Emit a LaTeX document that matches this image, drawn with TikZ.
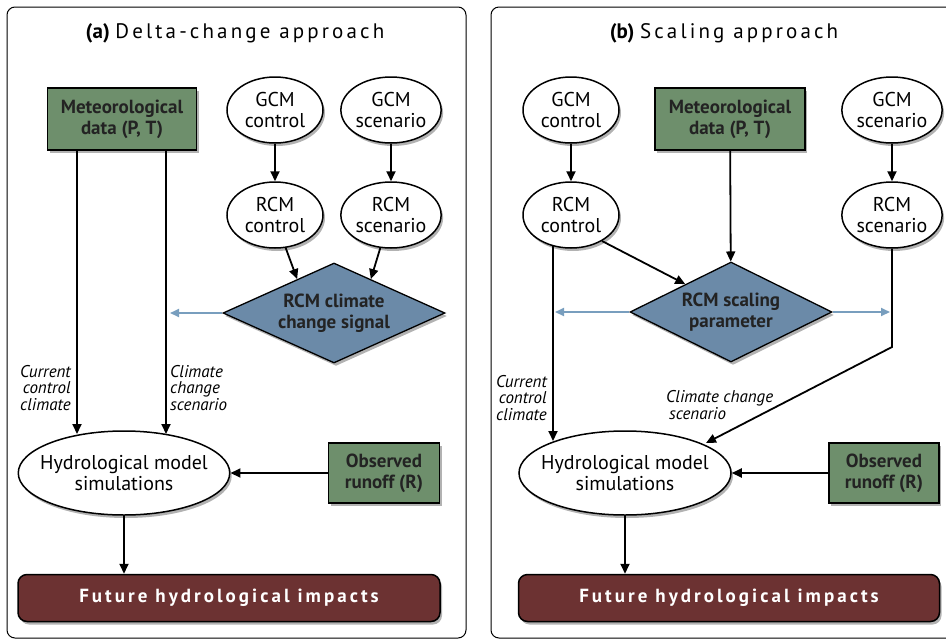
\documentclass[tikz,border=0pt]{standalone}
\usepackage{fontspec}
\setmainfont{PT Sans}
\usetikzlibrary{shapes.geometric,arrows.meta,shadows,calc}

\definecolor{boxgreen}{RGB}{110,143,108}
\definecolor{sigblue}{RGB}{107,138,168}
\definecolor{impred}{RGB}{108,50,50}
\definecolor{linkblue}{RGB}{120,158,190}
\definecolor{inktext}{RGB}{35,35,35}

\tikzset{
  shade/.style={drop shadow={shadow xshift=2pt,shadow yshift=-3pt,opacity=0.3,fill=black}},
  panel/.style={draw, line width=1pt, rounded corners=8pt},
  model/.style={ellipse, draw, line width=1.5pt, fill=white, inner sep=0pt, align=center,
    minimum width=96pt, minimum height=66pt, font=\fontsize{20}{21}\selectfont, shade},
  datbox/.style={rectangle, draw, line width=1.5pt, fill=boxgreen, inner sep=0pt, align=center,
    text=inktext, font=\bfseries\fontsize{19}{21}\selectfont, shade},
  signal/.style={diamond, draw, line width=1.3pt, fill=sigblue, inner sep=-4pt, align=center,
    shape aspect=2.2, text=inktext, font=\bfseries\fontsize{19}{21}\selectfont, shade},
  impact/.style={rectangle, draw, line width=1.5pt, rounded corners=9pt, fill=impred, text=white,
    font=\bfseries\fontsize{19}{21}\selectfont\addfontfeature{LetterSpace=16}, shade},
  arr/.style={line width=1.8pt, -{Triangle[length=10pt,width=9pt]}},
  bluearr/.style={line width=1.8pt, draw=linkblue, -{Triangle[length=9pt,width=8pt]}},
  flowlabel/.style={font=\itshape\fontsize{17}{16.5}\selectfont, inner sep=0pt}
}

\begin{document}
\begin{tikzpicture}[x=1pt, y=-1pt]
  \useasboundingbox (0,0) rectangle (946,641);

  % Panel (a)
  \draw[panel] (7,7) rectangle (466,638);
  \node (titlea) at (235,33) {\fontsize{21}{24}\selectfont\textbf{(a)}
    \addfontfeature{LetterSpace=15}Delta-change approach};

  \node[datbox, minimum width=149pt, minimum height=62pt] (meta) at (122,119) {Meteorological\\data (P, T)};
  \node[model] (gcmca) at (275,110) {GCM\\control};
  \node[model] (gcmsa) at (391,110) {GCM\\scenario};
  \node[model] (rcmca) at (275,215) {RCM\\control};
  \node[model] (rcmsa) at (391,215) {RCM\\scenario};
  \node[signal, minimum width=222pt, minimum height=100pt] (siga) at (334,313) {RCM climate\\change signal};
  \node[model, inner xsep=-9pt, minimum width=211pt, minimum height=84pt] (hyda) at (124,473) {Hydrological model\\simulations};
  \node[datbox, minimum width=111pt, minimum height=60pt] (obsa) at (384,473) {Observed\\runoff (R)};
  \node[impact, minimum width=422pt, minimum height=47pt] (futa) at (229,598) {Future hydrological impacts};

  \coordinate (curina) at (77,434);
  \coordinate (clmina) at (166,434);
  \coordinate (linka) at (170,313);

  % Connectors (a)
  \draw[arr] (gcmca) -- (rcmca);
  \draw[arr] (gcmsa) -- (rcmsa);
  \draw[arr] (rcmca.-72) -- ($(siga.north)!0.33!(siga.west)$);
  \draw[arr] (rcmsa.-108) -- ($(siga.north)!0.33!(siga.east)$);
  \draw[arr] (meta.south -| curina) -- (curina);
  \draw[arr] (meta.south -| clmina) -- (clmina);
  \draw[bluearr] (siga.west) -- (linka);
  \draw[arr] (obsa.west) -- (hyda.east);
  \draw[arr] (hyda.south) -- (hyda.south |- futa.north);

  \node[flowlabel, anchor=east, align=right] (cura) at (71,388) {Current\\control\\climate};
  \node[flowlabel, anchor=west, align=left] (clma) at (170,388) {Climate\\change\\scenario};

  % Panel (b)
  \draw[panel] (491,7) rectangle (960,638);
  \node (titleb) at (724,33) {\fontsize{21}{24}\selectfont\textbf{(b)}
    \addfontfeature{LetterSpace=15}Scaling approach};

  \node[model] (gcmcb) at (571,110) {GCM\\control};
  \node[datbox, minimum width=150pt, minimum height=62pt] (metb) at (730,119) {Meteorological\\data (P, T)};
  \node[model] (gcmsb) at (892,110) {GCM\\scenario};
  \node[model] (rcmcb) at (571,215) {RCM\\control};
  \node[model] (rcmsb) at (892,215) {RCM\\scenario};
  \node[signal, minimum width=202pt, minimum height=100pt] (sigb) at (731,312) {RCM scaling\\parameter};
  \node[model, inner xsep=-9pt, minimum width=212pt, minimum height=84pt] (hydb) at (625,473) {Hydrological model\\simulations};
  \node[datbox, minimum width=110pt, minimum height=60pt] (obsb) at (884,473) {Observed\\runoff (R)};
  \node[impact, minimum width=421pt, minimum height=47pt] (futb) at (729,598) {Future hydrological impacts};

  \coordinate (curoutb) at (553,246);
  \coordinate (curinb) at (553,441);
  \coordinate (bendb) at (892,347);
  \coordinate (clminb) at (706,443);

  % Connectors (b)
  \draw[arr] (gcmcb) -- (rcmcb);
  \draw[arr] (gcmsb) -- (rcmsb);
  \draw[arr] (metb) -- (sigb);
  \draw[arr] (rcmcb.-40) -- ($(sigb.north)!0.45!(sigb.west)$);
  \draw[arr] (curoutb) -- (curinb);
  \draw[arr] (rcmsb.south) -- (bendb) -- (clminb);
  \draw[bluearr, shorten >=2pt] (sigb.west) -- (sigb.west -| curoutb);
  \draw[bluearr, shorten >=2pt] (sigb.east) -- (sigb.east -| bendb);
  \draw[arr] (obsb.west) -- (hydb.east);
  \draw[arr] (hydb.south) -- (hydb.south |- futb.north);

  \node[flowlabel, anchor=east, align=right] (curb) at (547,398) {Current\\control\\climate};
  \node[flowlabel, anchor=west, align=left] (clmb) at (666,405) {Climate change\\\hspace{3pt}scenario};
\end{tikzpicture}
\end{document}
